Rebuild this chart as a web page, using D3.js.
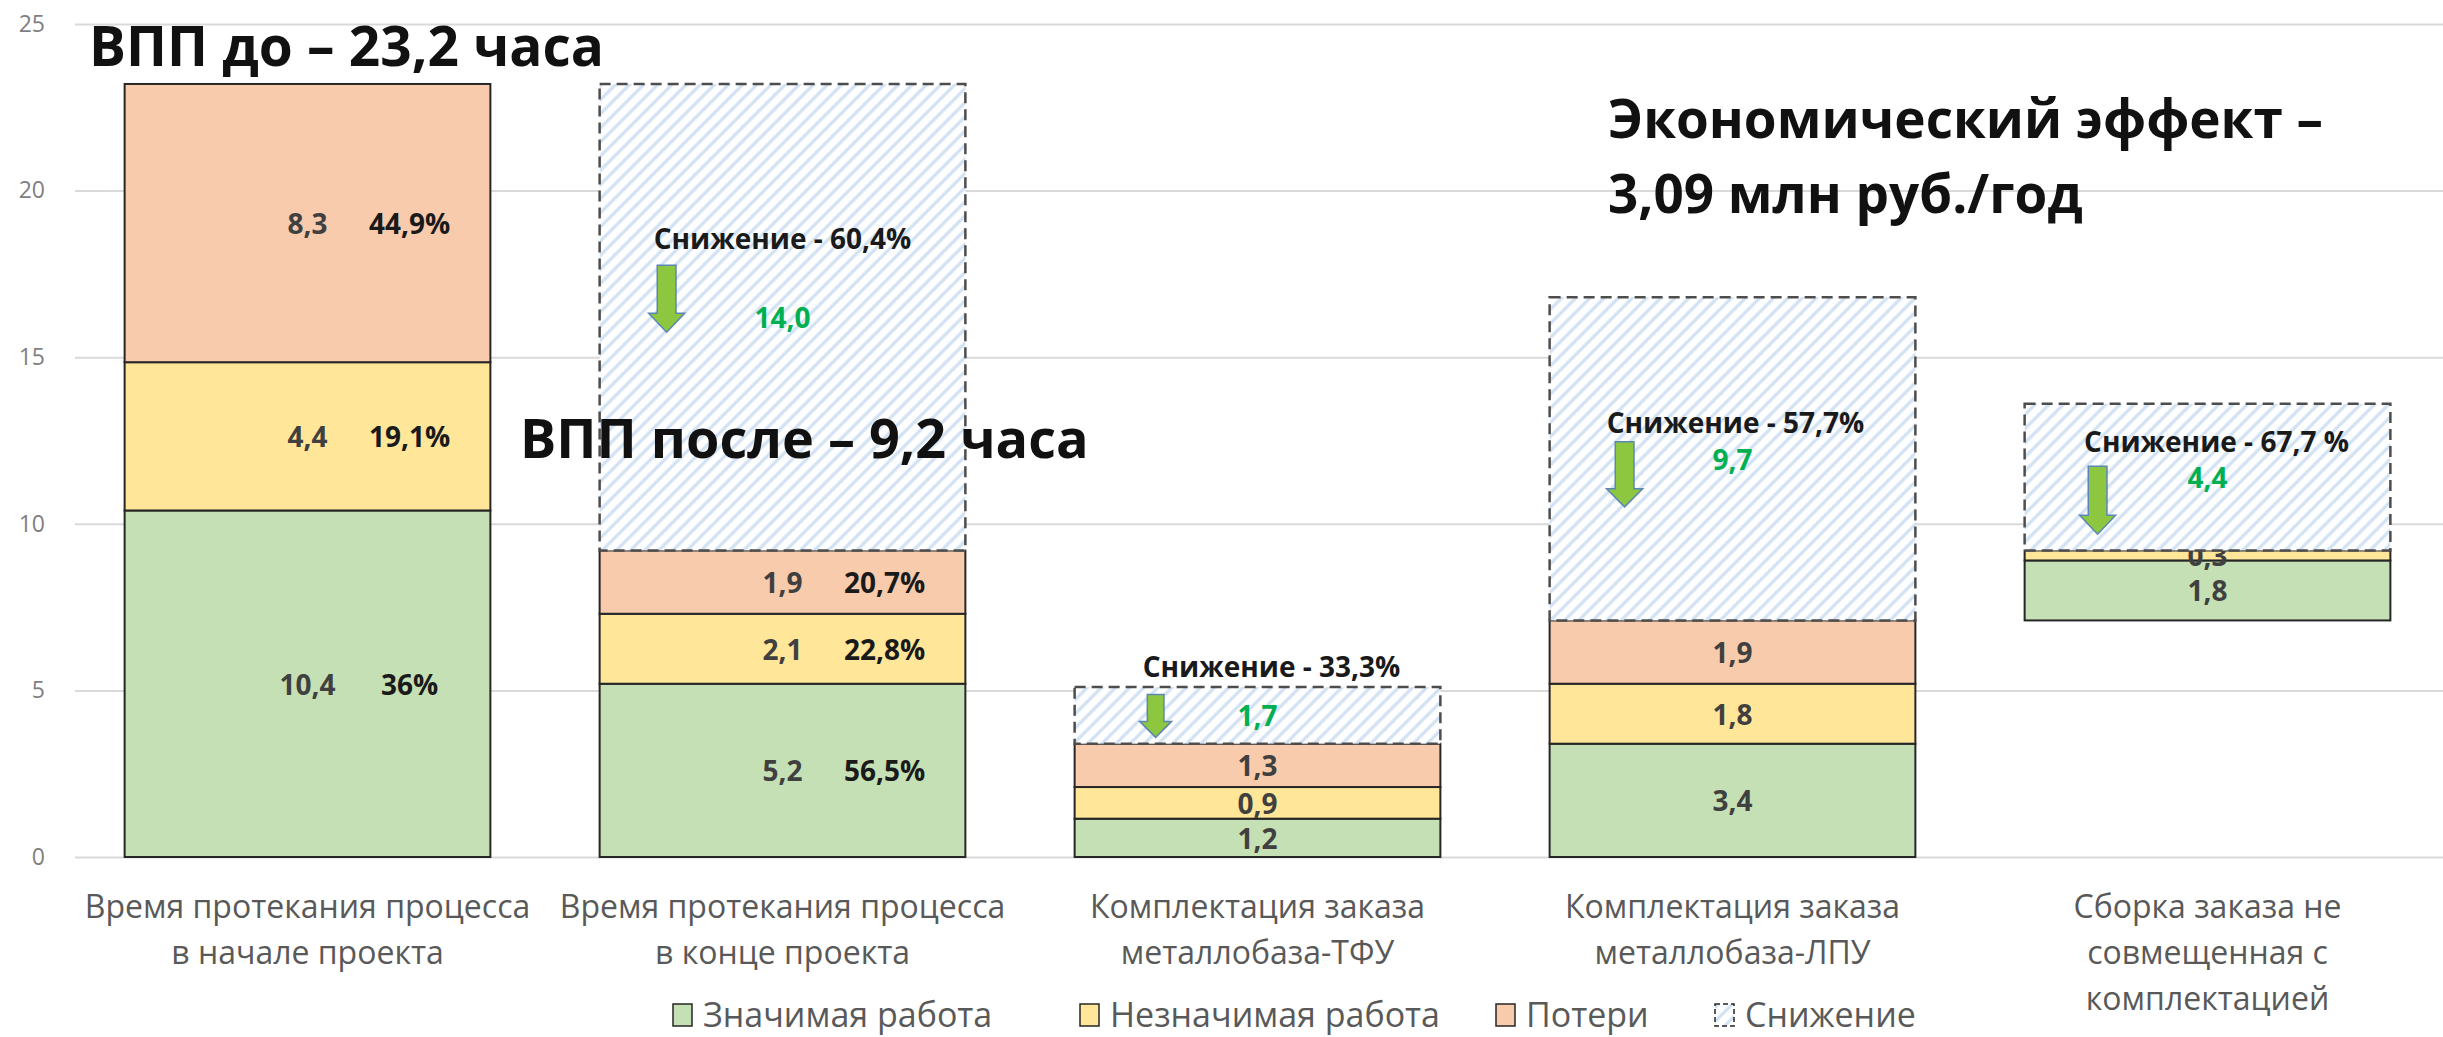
<!DOCTYPE html>
<html>
<head>
<meta charset="utf-8">
<script src="https://cdn.jsdelivr.net/npm/d3@7"></script>
<style>
  body { margin: 0; background: #fff; }
  text { font-family: "Open Sans", sans-serif; }
</style>
</head>
<body>
<div id="chart"></div>
<script>
// data
var categories = [
  ["Время протекания процесса", "в начале проекта"],
  ["Время протекания процесса", "в конце проекта"],
  ["Комплектация заказа", "металлобаза-ТФУ"],
  ["Комплектация заказа", "металлобаза-ЛПУ"],
  ["Сборка заказа не", "совмещенная с", "комплектацией"]
];
var offsetBase = [0, 0, 0, 0, 7.1];
var important  = [10.4, 5.2, 1.15, 3.4, 1.8];
var minor      = [4.45, 2.1, 0.95, 1.8, 0.3];
var losses     = [8.35, 1.9, 1.3, 1.9, 0];
var reduction  = [0, 14.0, 1.7, 9.7, 4.4];

var importantLabels = ["10,4", "5,2", "1,2", "3,4", "1,8"];
var minorLabels     = ["4,4", "2,1", "0,9", "1,8", "0,3"];
var lossLabels      = ["8,3", "1,9", "1,3", "1,9", ""];
var reductionLabels = ["", "14,0", "1,7", "9,7", "4,4"];
var importantPct = ["36%", "56,5%", "", "", ""];
var minorPct     = ["19,1%", "22,8%", "", "", ""];
var lossPct      = ["44,9%", "20,7%", "", "", ""];
var reductionPct = ["", "Снижение - 60,4%", "Снижение - 33,3%", "Снижение - 57,7%", "Снижение - 67,7 %"];

var seriesNames = ["Значимая работа", "Незначимая работа", "Потери", "Снижение"];
var yTicks = [0, 5, 10, 15, 20, 25];

// colours
var colors = { important: "#c5e0b4", minor: "#ffe699", losses: "#f8cbad" };

// annotation placement (px, relative to the middle of the "reduction" part)
var notes = [
  null,
  { dx: 0,  dy: -79, ax: 67, top: -52, tip: 15, hw: 36, hl: 19 },
  { dx: 14, dy: -49, ax: 81, top: -21, tip: 22, hw: 32, hl: 16 },
  { dx: 3,  dy: -37, ax: 75, top: -17, tip: 48, hw: 36, hl: 18 },
  { dx: 9,  dy: -36, ax: 73, top: -11, tip: 57, hw: 36, hl: 19 }
];

var W = 2443, H = 1037;
var svg = d3.select("#chart").append("svg")
  .attr("width", W).attr("height", H);

var defs = svg.append("defs");
var pat = defs.append("pattern")
  .attr("id", "hatch")
  .attr("patternUnits", "userSpaceOnUse")
  .attr("width", 10).attr("height", 10)
  .attr("patternTransform", "rotate(45)");
pat.append("rect").attr("width", 10).attr("height", 10).attr("fill", "#fff");
pat.append("line")
  .attr("x1", 5).attr("y1", 0).attr("x2", 5).attr("y2", 10)
  .attr("stroke", "#d0e1f3").attr("stroke-width", 3.2);

// table for the stack
var table = categories.map(function (c, i) {
  return {
    i: i,
    base: offsetBase[i],
    important: important[i],
    minor: minor[i],
    losses: losses[i],
    reduction: reduction[i]
  };
});
var keys = ["base", "important", "minor", "losses", "reduction"];
var stacked = d3.stack().keys(keys)(table);

var x = d3.scaleBand()
  .domain(d3.range(categories.length))
  .range([70, 2445])
  .paddingInner(0.23)
  .paddingOuter(0.115);

var y = d3.scaleLinear()
  .domain([0, 25])
  .range([857, 24]);

// Y axis with gridlines
var yAxis = svg.append("g")
  .attr("transform", "translate(75,0)")
  .call(d3.axisLeft(y).tickValues(yTicks).tickSize(-(W - 75)).tickPadding(30));
yAxis.select(".domain").remove();
yAxis.selectAll(".tick line").attr("stroke", "#d9d9d9").attr("stroke-width", 2);
yAxis.selectAll(".tick text")
  .attr("fill", "#7f7f7f")
  .style("font-size", "23px")
  .style("font-family", "Open Sans");

// solid parts
var solidKeys = ["important", "minor", "losses"];
solidKeys.forEach(function (k) {
  var layer = stacked[keys.indexOf(k)];
  svg.append("g")
    .selectAll("rect")
    .data(layer.filter(function (d) { return d[1] - d[0] > 0; }))
    .enter()
    .append("rect")
    .attr("x", function (d) { return x(d.data.i); })
    .attr("width", x.bandwidth())
    .attr("y", function (d) { return y(d[1]); })
    .attr("height", function (d) { return y(d[0]) - y(d[1]); })
    .attr("fill", colors[k])
    .attr("stroke", "#262626")
    .attr("stroke-width", 2);
});

// labels of solid parts
var labelSets = { important: [importantLabels, importantPct], minor: [minorLabels, minorPct], losses: [lossLabels, lossPct] };
solidKeys.forEach(function (k) {
  var layer = stacked[keys.indexOf(k)];
  var g = svg.append("g");
  layer.forEach(function (d) {
    var i = d.data.i;
    var cx = x(i) + x.bandwidth() / 2;
    var cy = y((d[0] + d[1]) / 2);
    var val = labelSets[k][0][i], pct = labelSets[k][1][i];
    if (val) {
      g.append("text")
        .attr("x", cx).attr("y", cy)
        .attr("text-anchor", "middle").attr("dominant-baseline", "central")
        .attr("fill", "#404040").style("font-size", "28px").style("font-weight", "bold")
        .text(val);
    }
    if (pct) {
      g.append("text")
        .attr("x", cx + 102).attr("y", cy)
        .attr("text-anchor", "middle").attr("dominant-baseline", "central")
        .attr("fill", "#1a1a1a").style("font-size", "28px").style("font-weight", "bold")
        .text(pct);
    }
  });
});

// reduction (hatched, dashed)
var red = stacked[keys.indexOf("reduction")].filter(function (d) { return d[1] - d[0] > 0; });
svg.append("g")
  .selectAll("rect")
  .data(red)
  .enter()
  .append("rect")
  .attr("x", function (d) { return x(d.data.i); })
  .attr("width", x.bandwidth())
  .attr("y", function (d) { return y(d[1]); })
  .attr("height", function (d) { return y(d[0]) - y(d[1]); })
  .attr("fill", "url(#hatch)")
  .attr("stroke", "#4d4d4d")
  .attr("stroke-width", 2.5)
  .attr("stroke-dasharray", "11,6");

// arrows and reduction notes
var ng = svg.append("g");
red.forEach(function (d) {
  var i = d.data.i, n = notes[i];
  var cx = x(i) + x.bandwidth() / 2;
  var cy = y((d[0] + d[1]) / 2);
  ng.append("text")
    .attr("x", cx).attr("y", cy)
    .attr("text-anchor", "middle").attr("dominant-baseline", "central")
    .attr("fill", "#00b050").style("font-size", "28px").style("font-weight", "bold")
    .text(reductionLabels[i]);
  ng.append("text")
    .attr("x", cx + n.dx).attr("y", cy + n.dy)
    .attr("text-anchor", "middle").attr("dominant-baseline", "central")
    .attr("fill", "#1a1a1a").style("font-size", "28px").style("font-weight", "bold")
    .text(reductionPct[i]);
  var ax = x(i) + n.ax, ty = cy + n.top, py = cy + n.tip, hy = py - n.hl;
  var sw = n.hw * 0.52;
  var p = d3.path();
  p.moveTo(ax - sw / 2, ty);
  p.lineTo(ax + sw / 2, ty);
  p.lineTo(ax + sw / 2, hy);
  p.lineTo(ax + n.hw / 2, hy);
  p.lineTo(ax, py);
  p.lineTo(ax - n.hw / 2, hy);
  p.lineTo(ax - sw / 2, hy);
  p.closePath();
  ng.append("path")
    .attr("d", p.toString())
    .attr("fill", "#8dc63f")
    .attr("stroke", "#5b86b5")
    .attr("stroke-width", 1.5);
});

// category labels
var xg = svg.append("g");
categories.forEach(function (lines, i) {
  var t = xg.append("text")
    .attr("text-anchor", "middle")
    .attr("fill", "#595959")
    .style("font-size", "32px");
  lines.forEach(function (s, j) {
    t.append("tspan")
      .attr("x", x(i) + x.bandwidth() / 2)
      .attr("y", 905 + j * 46)
      .attr("dominant-baseline", "central")
      .text(s);
  });
});

// big headings
var heads = [
  { t: "ВПП до – 23,2 часа", x: 89, y: 66, s: 55 },
  { t: "ВПП после – 9,2 часа", x: 520, y: 458, s: 54 },
  { t: "Экономический эффект –", x: 1608, y: 138, s: 53 },
  { t: "3,09 млн руб./год", x: 1608, y: 213, s: 53 }
];
svg.append("g").selectAll("text")
  .data(heads)
  .enter()
  .append("text")
  .attr("x", function (d) { return d.x; })
  .attr("y", function (d) { return d.y; })
  .attr("fill", "#111")
  .style("font-size", function (d) { return d.s + "px"; })
  .style("font-weight", "bold")
  .text(function (d) { return d.t; });

// legend
var legX = [673, 1080, 1496, 1715];
var legFill = [colors.important, colors.minor, colors.losses, "url(#hatch)"];
var lg = svg.append("g");
seriesNames.forEach(function (s, i) {
  var r = lg.append("rect")
    .attr("x", legX[i]).attr("y", 1004)
    .attr("width", 19).attr("height", 22)
    .attr("fill", legFill[i])
    .attr("stroke", "#262626").attr("stroke-width", 1.5);
  if (i === 3) r.attr("stroke-dasharray", "5,3");
  lg.append("text")
    .attr("x", legX[i] + 30).attr("y", 1014)
    .attr("dominant-baseline", "central")
    .attr("fill", "#595959")
    .style("font-size", "34px")
    .text(s);
});
</script>
</body>
</html>
